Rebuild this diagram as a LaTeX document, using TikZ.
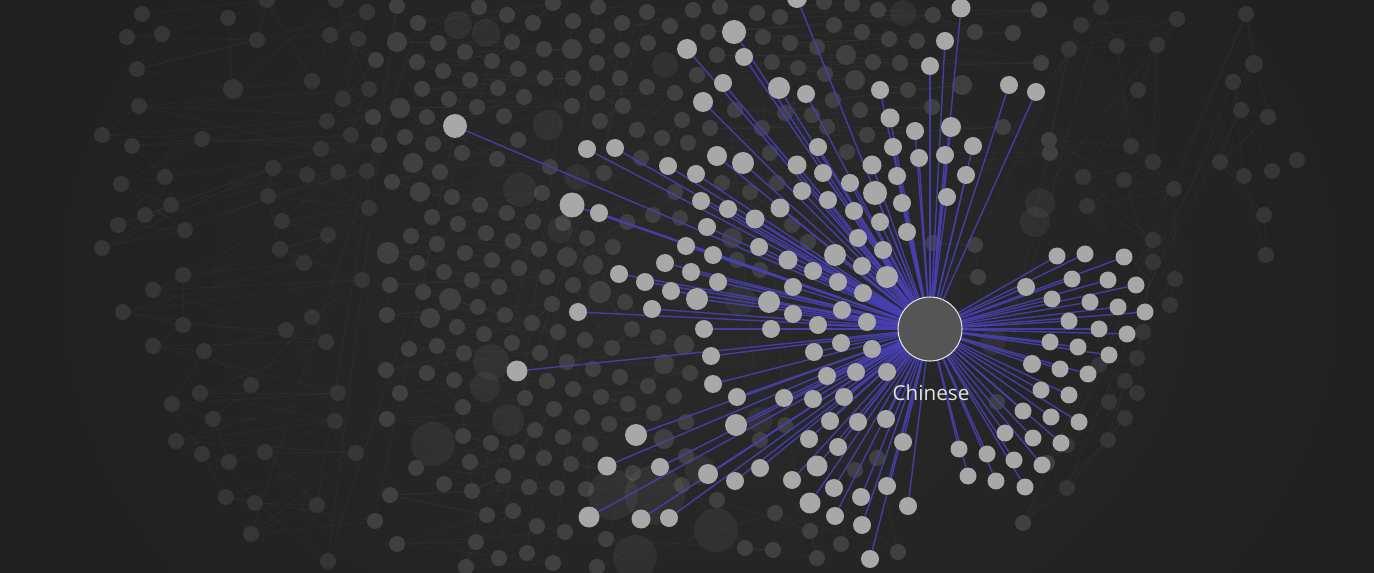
\documentclass[tikz,border=0pt]{standalone}
\usepackage{fontspec}
\setmainfont{Open Sans}
\definecolor{bgcol}{RGB}{30,30,30}
\definecolor{hazecol}{RGB}{42,42,42}
\definecolor{dimnode}{RGB}{64,64,64}
\definecolor{farnode}{RGB}{54,54,54}
\definecolor{litnode}{RGB}{168,168,168}
\definecolor{hubfill}{RGB}{85,85,85}
\definecolor{linkblue}{RGB}{72,64,178}
\definecolor{labelcol}{RGB}{226,226,226}
\pgfdeclarelayer{backdrop}
\pgfdeclarelayer{dots}
\pgfdeclarelayer{links}
\pgfsetlayers{backdrop,dots,links,main}

\begin{document}
\begin{tikzpicture}[x=0.75pt, y=-0.75pt,
  bgdot/.style={circle, fill=dimnode, inner sep=0pt},
  glow/.style={circle, fill=white, fill opacity=0.05, inner sep=0pt},
  langdot/.style={circle, fill=litnode, inner sep=0pt},
  hub/.style={circle, fill=hubfill, draw=labelcol, line width=0.8pt, inner sep=0pt, minimum size=48pt},
  link/.style={draw=linkblue, line width=1.05pt, draw opacity=0.9},
  faintlink/.style={draw=white, line width=0.6pt, draw opacity=0.03}]

  \useasboundingbox (0,0) rectangle (1374,573);

  % the other languages, greyed out
  \begin{pgfonlayer}{dots}
  \foreach \x/\y/\d [count=\i] in {
    142/14/16, 127/37/16, 162/34/16, 228/18/16, 267/0/16, 257/40/16, 137/69/16, 233/89/20, 312/81/16, 330/35/16,
    367/12/16, 336/0/16, 358/39/16, 376/60/16, 343/99/16, 369/89/16, 327/121/16, 351/135/16, 373/117/16, 139/106/16,
    102/135/16, 132/146/16, 202/139/16, 321/149/16, 379/145/16, 165/177/16, 121/184/16, 171/205/16, 145/215/16, 118/225/16,
    185/230/16, 102/248/16, 273/168/16, 307/175/16, 338/172/16, 367/171/16, 268/196/16, 369/208/16, 282/221/16, 328/235/16,
    280/249/16, 304/263/16, 183/275/16, 153/290/16, 362/280/16, 123/312/16, 183/325/16, 286/330/16, 312/317/16, 326/342/16,
    153/346/16, 204/351/16, 251/385/16, 200/393/16, 338/393/16, 172/404/16, 213/419/16, 335/421/16, 176/441/16, 202/454/16,
    229/462/16, 265/452/16, 356/453/16, 226/497/16, 255/503/16, 317/505/16, 251/534/16, 375/521/16, 328/561/16,
    397/6/16, 418/23/16, 479/7/16, 507/15/16, 533/23/16, 553/3/16, 397/42/20, 438/43/16, 465/52/16, 492/61/16,
    512/42/16, 544/49/16, 572/49/20, 417/62/16, 443/71/16, 470/80/16, 498/88/16, 518/69/16, 545/78/16, 573/78/16,
    422/89/16, 449/99/16, 477/107/16, 504/116/16, 524/97/16, 572/106/16, 400/108/20, 427/117/16, 405/137/16, 433/144/16,
    462/153/16, 497/159/16, 518/140/16, 550/167/16, 413/163/20, 440/172/16, 392/182/16, 420/192/20, 452/197/16, 480/205/16,
    507/213/16, 533/222/16, 542/193/16, 432/217/16, 458/224/16, 486/233/16, 513/241/16, 411/236/16, 437/244/16, 465/253/16,
    492/260/16, 539/249/16, 388/253/22, 417/263/16, 444/272/16, 472/280/16, 499/287/16, 519/268/16, 547/277/16, 390/285/16,
    423/292/16, 450/299/22, 430/318/20, 387/315/16, 478/307/16, 505/315/16, 532/323/16, 552/304/16, 558/332/16, 457/327/16,
    484/334/16, 512/343/16, 540/353/16, 409/349/16, 437/346/16, 464/353/16, 386/370/16, 427/373/16, 454/380/16, 547/381/16,
    400/393/16, 463/407/16, 525/398/16, 554/409/16, 387/419/16, 463/436/16, 491/443/16, 517/452/16, 535/430/16, 544/458/16,
    416/468/16, 444/484/16, 470/462/16, 472/491/16, 503/476/16, 529/487/16, 557/488/16, 390/495/16, 487/515/16, 513/511/16,
    537/526/16, 565/532/16, 397/544/16, 476/542/16, 499/558/16, 527/553/16, 553/563/16, 466/567/16,
    573/21/16, 598/7/16, 622/23/16, 647/12/16, 670/26/16, 693/10/16, 597/36/16, 622/50/16, 648/43/16, 597/63/16,
    620/78/16, 647/87/16, 675/93/16, 597/93/16, 623/106/16, 600/121/16, 637/130/16, 662/138/16, 682/120/16, 641/158/16,
    604/173/16, 675/192/16, 653/215/16, 680/218/16, 627/222/16, 563/223/16, 587/238/16, 613/247/16, 567/257/20, 593/265/20,
    573/285/16, 600/292/22, 625/302/16, 585/340/16, 612/348/16, 632/329/16, 658/337/16, 684/345/20, 567/362/16, 593/369/16,
    620/377/16, 648/386/16, 664/364/20, 690/373/16, 573/389/16, 601/397/16, 628/404/16, 654/413/16, 674/396/16, 686/422/16,
    582/417/16, 609/424/16, 664/439/20, 563/437/16, 590/444/16, 571/464/16, 633/473/16, 686/456/16, 586/489/16, 682/485/16,
    606/539/16, 597/567/16, 717/500/16, 745/548/16, 773/550/16, 775/513/16, 810/531/16, 817/558/16, 841/544/16, 898/552/16,
    760/440/16, 785/425/16, 855/470/16, 877/458/16,
    720/7/16, 757/13/16, 780/17/16, 824/2/16, 852/4/16, 878/10/16, 933/15/16, 975/32/16, 1013/33/16, 1039/10/16,
    708/32/16, 763/37/16, 790/43/16, 817/47/16, 834/25/16, 862/32/16, 889/39/16, 917/41/16, 846/55/20, 873/62/16,
    900/63/16, 1041/63/16, 717/55/16, 697/75/16, 772/62/16, 798/68/16, 825/74/16, 855/80/20, 908/90/16, 962/85/20,
    833/100/16, 860/110/16, 932/107/16, 735/110/16, 785/113/16, 812/115/16, 762/128/16, 710/128/16, 827/127/16, 867/135/16,
    1003/127/16, 688/143/16, 770/153/16, 847/152/16, 1050/153/16, 777/183/16, 722/183/16, 750/192/16, 792/225/16, 732/238/20,
    808/242/16, 760/270/16, 737/260/16, 933/243/16, 975/245/16, 978/277/16, 997/402/16,
    1101/7/16, 1081/25/16, 1177/19/16, 1069/49/16, 1117/46/16, 1157/45/16, 1138/90/16, 1049/140/16, 1131/146/16, 1153/162/16,
    1083/177/16, 1124/180/16, 1174/189/16, 1087/206/16, 1153/240/16, 1153/262/16, 1175/279/16, 1170/305/16, 1143/332/16, 1137/358/16,
    1099/365/16, 1125/381/16, 1137/393/16, 1109/402/16, 1125/418/16, 1108/440/16, 1067/445/16, 1047/463/16, 1067/488/16, 1023/523/16,
    1246/14/16, 1254/64/18, 1233/82/16, 1241/110/16, 1268/117/16, 1220/162/16, 1244/176/16, 1272/171/16, 1297/160/16, 1264/215/16,
    1266/255/16}
  {
    \pgfmathtruncatemacro\far{(\x<372) || (\x>1060)}
    \ifnum\far=1 \def\dotcol{farnode}\else\def\dotcol{dimnode}\fi
    \node[bgdot, fill=\dotcol, minimum size=\d*0.75pt] (b\i) at (\x,\y) {};
    \xdef\nbg{\i}
  }
  % soft halos
  \foreach \x/\y/\d [count=\i] in {458/25/28, 486/33/28, 577/177/26, 560/230/26, 548/125/30, 433/444/44, 491/362/36,
    485/387/30, 508/420/32, 613/495/50, 655/495/60, 635/557/44, 716/530/44, 1035/222/30, 993/342/26, 1040/203/30,
    903/13/26, 665/65/26, 520/190/34, 740/300/30, 760/420/26, 700/470/30}
    \node[glow, minimum size=\d*0.75pt] (g\i) at (\x,\y) {};
  \end{pgfonlayer}

  % background and the faint links between the greyed out languages
  \begin{pgfonlayer}{backdrop}
  \fill[bgcol] (0,0) rectangle (1374,573);
  \shade[inner color=hazecol, outer color=bgcol] (700,285) ellipse [x radius=900, y radius=720];
  \foreach \i in {2,...,\nbg} {
    \pgfmathtruncatemacro\j{\i-1}
    \draw[faintlink] (b\j) -- (b\i);
  }
  \foreach \i in {5,...,\nbg} {
    \pgfmathtruncatemacro\j{\i-4}
    \draw[faintlink] (b\j) -- (b\i);
  }
  \end{pgfonlayer}

  % the selected language and its neighbours
  \node[hub] (chinese) at (930,329) {};
  \foreach \x/\y/\d [count=\i] in {
    797/-2/20, 961/8/19, 734/32/24, 687/49/20, 945/41/18, 744/57/18, 930/66/18, 723/83/18, 779/88/22, 806/94/18,
    880/90/18, 1009/85/18, 1036/92/18, 703/102/20, 455/126/24, 890/118/19, 915/131/18, 951/127/20, 818/147/18, 893/147/18,
    973/146/18, 587/149/18, 615/148/18, 668/166/18, 696/174/18, 717/156/20, 743/163/22, 797/165/19, 823/173/18, 850/183/18,
    872/165/19, 897/176/18, 919/158/18, 945/155/18, 966/175/18, 572/205/25, 599/213/18, 701/201/18, 728/209/18, 755/219/19,
    780/208/19, 802/191/18, 828/200/18, 854/211/18, 875/193/24, 902/203/18, 947/197/18, 707/227/18, 686/246/18, 713/255/18,
    759/247/18, 788/260/19, 835/255/22, 858/238/18, 880/222/18, 907/232/18, 883/250/18, 813/271/18, 838/282/18, 862/266/18,
    887/277/22, 665/263/18, 691/272/18, 718/282/18, 619/274/18, 645/282/18, 671/291/18, 697/299/22, 769/302/22, 793/287/18,
    863/293/18, 578/312/18, 652/309/18, 793/314/18, 818/325/18, 842/310/18, 867/322/18, 704/329/18, 771/329/18, 841/343/18,
    872/349/18, 711/356/18, 814/352/18, 827/376/18, 856/372/18, 887/372/18, 517/371/21, 713/384/18, 737/397/18, 784/398/18,
    813/399/18, 844/397/18, 636/435/22, 736/425/22, 607/466/19, 660/467/18, 708/474/20, 735/481/18, 760/468/18, 809/439/18,
    830/421/18, 858/422/18, 886/419/18, 838/447/18, 903/442/18, 817/466/21, 792/480/18, 834/488/18, 861/497/18, 887/486/18,
    810/503/21, 835/516/18, 862/525/18, 908/506/18, 870/559/18, 589/517/21, 641/519/19, 669/518/18,
    1057/256/17, 1085/254/17, 1124/257/17, 1026/287/18, 1072/279/17, 1108/280/17, 1136/285/17, 1052/299/17, 1090/302/17, 1118/307/17,
    1145/312/17, 1069/321/17, 1099/329/17, 1127/334/17, 1050/342/17, 1078/347/17, 1109/355/17, 1032/364/18, 1060/369/17, 1088/374/17,
    1041/390/17, 1069/395/17, 1023/411/17, 1051/417/17, 1079/422/17, 1005/433/17, 1033/438/17, 1061/443/17, 959/449/17, 987/454/17,
    1014/460/17, 1042/465/17, 968/476/17, 996/481/17, 1025/487/17}
  {
    \node[langdot, minimum size=\d*0.75pt] (l\i) at (\x,\y) {};
    \begin{pgfonlayer}{links}
      \draw[link] (chinese) -- (l\i);
    \end{pgfonlayer}
  }
  \node[text=labelcol, font=\fontsize{15.5}{18}\selectfont, anchor=base] (chineselabel) at (931,401) {Chinese};
\end{tikzpicture}
\end{document}
